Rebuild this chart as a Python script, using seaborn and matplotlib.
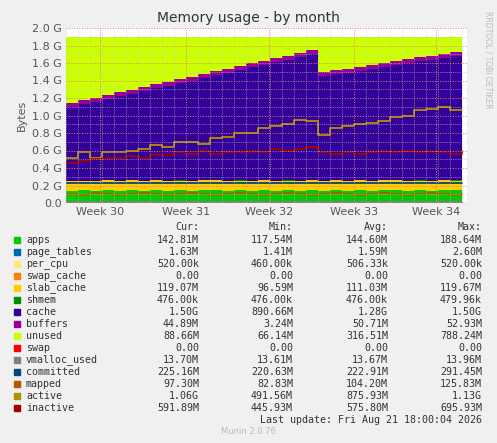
import numpy as np
import matplotlib
matplotlib.use("Agg")
import matplotlib.pyplot as plt
import seaborn as sns

sns.set_style("white")
plt.rcParams['font.family'] = ['DejaVu Sans']

# day offsets across the month (x axis)
days = np.arange(34)
week_ticks = [2.8, 10.0, 16.9, 24.0, 30.8]
week_labels = ["Week 30", "Week 31", "Week 32", "Week 33", "Week 34"]

# stacked series (GB)
apps = [0.14, 0.145, 0.14, 0.15, 0.14, 0.145, 0.14, 0.15, 0.14, 0.145, 0.14, 0.145, 0.15, 0.14, 0.145, 0.14,
        0.15, 0.14, 0.145, 0.14, 0.145, 0.14, 0.15, 0.14, 0.145, 0.14, 0.145, 0.15, 0.14, 0.145, 0.14, 0.15, 0.145, 0.14]
page_tables = [0.0016] * 34
per_cpu = [0.0005] * 34
swap_cache = [0.0] * 34
slab_cache = [0.11, 0.105, 0.112, 0.108, 0.11, 0.114, 0.11, 0.106, 0.112, 0.11, 0.108, 0.112, 0.11, 0.114, 0.11, 0.108,
              0.11, 0.112, 0.11, 0.108, 0.112, 0.11, 0.106, 0.11, 0.112, 0.11, 0.114, 0.11, 0.112, 0.11, 0.108, 0.112, 0.11, 0.114]
shmem = [0.0005] * 34
cache_top = [1.10, 1.13, 1.16, 1.19, 1.22, 1.25, 1.28, 1.31, 1.34, 1.37, 1.40, 1.43, 1.46, 1.49, 1.52, 1.55, 1.58,
             1.61, 1.64, 1.67, 1.70, 1.45, 1.47, 1.49, 1.51, 1.53, 1.55, 1.58, 1.60, 1.62, 1.64, 1.66, 1.68, 1.70]
buffers = [0.045] * 34
total = 1.9

# line series (GB)
vmalloc_used = [0.0137] * 34
committed = [0.225, 0.224, 0.226, 0.225, 0.223, 0.225, 0.226, 0.224, 0.225, 0.227, 0.225, 0.224, 0.226, 0.225, 0.224, 0.226, 0.225,
             0.224, 0.225, 0.226, 0.224, 0.225, 0.226, 0.225, 0.224, 0.226, 0.225, 0.224, 0.226, 0.225, 0.224, 0.226, 0.225, 0.225]
mapped = [0.10, 0.09, 0.11, 0.10, 0.09, 0.10, 0.11, 0.10, 0.09, 0.10, 0.11, 0.10, 0.09, 0.10, 0.11, 0.10, 0.09,
          0.10, 0.11, 0.10, 0.09, 0.10, 0.11, 0.10, 0.09, 0.10, 0.11, 0.10, 0.09, 0.10, 0.11, 0.10, 0.09, 0.10]
active = [0.52, 0.58, 0.52, 0.58, 0.58, 0.60, 0.62, 0.66, 0.64, 0.70, 0.70, 0.68, 0.74, 0.76, 0.80, 0.80, 0.86,
          0.88, 0.90, 0.95, 0.94, 0.78, 0.86, 0.88, 0.90, 0.92, 0.94, 0.98, 1.00, 1.06, 1.08, 1.10, 1.06, 1.06]
inactive = [0.46, 0.48, 0.50, 0.52, 0.52, 0.54, 0.52, 0.55, 0.55, 0.58, 0.56, 0.60, 0.56, 0.58, 0.58, 0.60, 0.58,
            0.62, 0.60, 0.62, 0.64, 0.58, 0.56, 0.58, 0.56, 0.58, 0.60, 0.58, 0.60, 0.58, 0.60, 0.58, 0.56, 0.60]

names = ["apps", "page_tables", "per_cpu", "swap_cache", "slab_cache", "shmem", "cache", "buffers", "unused",
         "swap", "vmalloc_used", "committed", "mapped", "active", "inactive"]
colors = ["#00CC00", "#0066B3", "#FFE680", "#FF8000", "#FFCC00", "#008F00", "#330099", "#990099", "#CCFF00",
          "#FF0000", "#808080", "#00487D", "#B35A00", "#B38F00", "#A30000"]
cur = ["142.81M", "1.63M", "520.00k", "0.00", "119.07M", "476.00k", "1.50G", "44.89M", "88.66M", "0.00", "13.70M",
       "225.16M", "97.30M", "1.06G", "591.89M"]
mins = ["117.54M", "1.41M", "460.00k", "0.00", "96.59M", "476.00k", "890.66M", "3.24M", "66.14M", "0.00", "13.61M",
        "220.63M", "82.83M", "491.56M", "445.93M"]
avgs = ["144.60M", "1.59M", "506.33k", "0.00", "111.03M", "476.00k", "1.28G", "50.71M", "316.51M", "0.00", "13.67M",
        "222.91M", "104.20M", "875.93M", "575.80M"]
maxs = ["188.64M", "2.60M", "520.00k", "0.00", "119.67M", "479.96k", "1.50G", "52.93M", "788.24M", "0.00", "13.96M",
        "291.45M", "125.83M", "1.13G", "695.93M"]

below = np.array(apps) + np.array(page_tables) + np.array(per_cpu) + np.array(swap_cache) + np.array(slab_cache) + np.array(shmem)
cache = np.array(cache_top) - below
unused = total - np.array(cache_top) - np.array(buffers)

fig = plt.figure(figsize=(4.97, 4.43), dpi=100, facecolor="#F0F0F0")
ax = fig.add_axes([66 / 497, 1 - 203 / 443, 401 / 497, 175 / 443])
ax.set_facecolor("white")
x = days.astype(float)
stack = [apps, page_tables, per_cpu, swap_cache, slab_cache, shmem, cache, buffers, unused]
ax.stackplot(x, *stack, colors=colors[:9], step="post", linewidth=0)
lines = [[0.0] * 34, vmalloc_used, committed, mapped, active, inactive]
for vals, c in zip(lines, colors[9:]):
    sns.lineplot(x=x, y=vals, color=c, lw=1.3, drawstyle="steps-post", ax=ax)

ax.set_xlim(0, 33.4)
ax.set_ylim(0, 2.0)
ax.set_yticks(np.arange(0, 2.01, 0.2))
ax.set_yticklabels(["0.0"] + [f"{v:.1f} G" for v in np.arange(0.2, 2.01, 0.2)], fontsize=8, color="#555555")
ax.set_xticks(week_ticks)
ax.set_xticklabels(week_labels, fontsize=8, color="#555555")
ax.set_xticks(np.arange(0, 33.5, 1.0), minor=True)
ax.set_yticks(np.arange(0, 2.01, 0.1), minor=True)
ax.grid(True, which="major", color="#E08080", ls=":", lw=0.7)
ax.grid(True, which="minor", color="#C8C8C8", ls=":", lw=0.5)
ax.set_axisbelow(False)
ax.tick_params(length=0, pad=3)
for s in ax.spines.values():
    s.set_visible(False)
ax.axhline(0, color="#AAAAAA", lw=1)
ax.set_ylabel("Bytes", fontsize=8, color="#555555")

fig.text(0.5, 1 - 18 / 443, "Memory usage - by month", ha="center", va="center", fontsize=10, color="#333333")
fig.text(488 / 497, 1 - 60 / 443, "RRDTOOL / TOBI OETIKER", rotation=270, ha="center", va="center",
         fontsize=5.5, color="#BBBBBB")

mono = dict(family="DejaVu Sans Mono", fontsize=7.2, color="#333333", va="center")
for lab, xp in zip(["Cur:", "Min:", "Avg:", "Max:"], [199, 293, 388, 482]):
    fig.text(xp / 497, 1 - 227 / 443, lab, ha="right", **mono)
for i, n in enumerate(names):
    yp = 1 - (240 + 12 * i) / 443
    fig.patches.append(plt.Rectangle((14 / 497, yp - 3 / 443), 6 / 497, 6 / 443, transform=fig.transFigure,
                                     color=colors[i], figure=fig))
    fig.text(26 / 497, yp, n, ha="left", **mono)
    for v, xp in zip([cur[i], mins[i], avgs[i], maxs[i]], [199, 293, 388, 482]):
        fig.text(xp / 497, yp, v, ha="right", **mono)
fig.text(482 / 497, 1 - 420 / 443, "Last update: Fri Aug 21 18:00:04 2026", ha="right", **mono)
fig.text(248 / 497, 1 - 432 / 443, "Munin 2.0.76", ha="center", va="center", fontsize=6, color="#BBBBBB")

fig.savefig("out.png", dpi=100, facecolor=fig.get_facecolor())
